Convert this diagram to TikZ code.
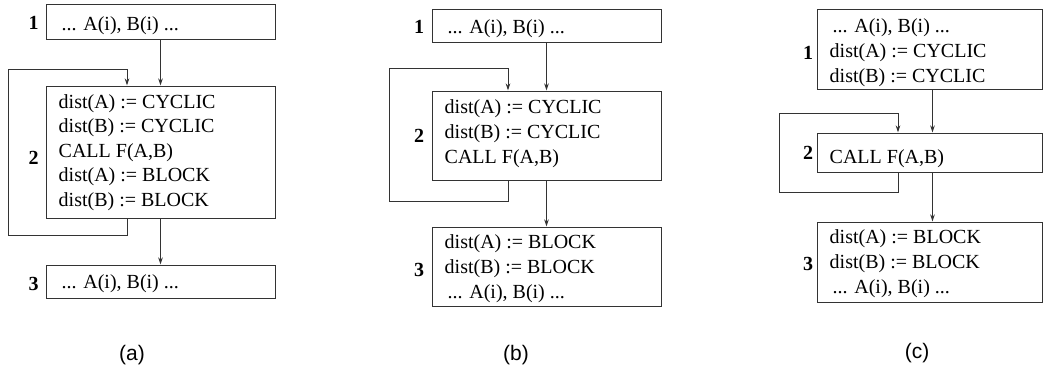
\documentclass[tikz,border=0pt]{standalone}
\usepackage{fontspec}
\setmainfont{Liberation Serif}
\newfontfamily\capfont{Liberation Sans}
\usetikzlibrary{arrows.meta}

\tikzset{
  stmtbox/.style={draw=black!80, line width=1pt, rectangle, inner sep=0pt},
  codeline/.style={anchor=base west, inner sep=0pt, font=\fontsize{20}{24}\selectfont},
  blocknum/.style={anchor=center, inner sep=0pt, font=\fontsize{20}{24}\selectfont\bfseries},
  caption/.style={anchor=center, inner sep=0pt, font=\capfont\fontsize{21}{25}\selectfont},
  flow/.style={draw=black!80, line width=1pt, -{Stealth[length=7pt,width=4.5pt]}},
}

% box with corners (x1,y1) and (x2,y2), y measured downwards
\newcommand{\stmtblock}[5]{%
  \node[stmtbox, minimum width={#4-#2}, minimum height={#5-#3}]
    (#1) at ({(#2+#4)/2},{(#3+#5)/2}) {};}

\begin{document}
\begin{tikzpicture}[x=1pt, y=-1pt]
\useasboundingbox (0,0) rectangle (1044,369);

% ---------------- (a) ----------------
\stmtblock{A1}{46}{5}{275}{40}
\stmtblock{A2}{46}{86}{275}{218}
\stmtblock{A3}{46}{265}{275}{298}

\node[blocknum] (nA1) at (33.5,23) {1};
\node[blocknum] (nA2) at (33.5,158) {2};
\node[blocknum] (nA3) at (33.5,284) {3};

\node[codeline] (tA1) at (61.5,31) {... A(i), B(i) ...};
\node[codeline] (tA2a) at (58.5,108) {dist(A) := CYCLIC};
\node[codeline] (tA2b) at (58.5,132.5) {dist(B) := CYCLIC};
\node[codeline] (tA2c) at (58.5,157) {CALL F(A,B)};
\node[codeline] (tA2d) at (58.5,181.5) {dist(A) := BLOCK};
\node[codeline] (tA2e) at (58.5,206) {dist(B) := BLOCK};
\node[codeline] (tA3) at (61.5,288) {... A(i), B(i) ...};

\coordinate (loopAbr) at (127,235);
\coordinate (loopAtl) at (8,70);
\draw[flow] (A1.south) -- (A2.north);
\draw[flow] (A2.south) -- (A3.north);
\draw[flow] (A2.south -| loopAbr) -- (loopAbr) -| (loopAtl) -| (A2.north -| loopAbr);

\node[caption] (capA) at (132,355) {(a)};

% ---------------- (b) ----------------
\stmtblock{B1}{432}{10}{661}{43}
\stmtblock{B2}{432}{91}{661}{180}
\stmtblock{B3}{432}{227}{661}{306}

\node[blocknum] (nB1) at (419,27) {1};
\node[blocknum] (nB2) at (419,136) {2};
\node[blocknum] (nB3) at (419,270) {3};

\node[codeline] (tB1) at (447.5,34) {... A(i), B(i) ...};
\node[codeline] (tB2a) at (444.5,113) {dist(A) := CYCLIC};
\node[codeline] (tB2b) at (444.5,138) {dist(B) := CYCLIC};
\node[codeline] (tB2c) at (444.5,163) {CALL F(A,B)};
\node[codeline] (tB3a) at (444.5,248) {dist(A) := BLOCK};
\node[codeline] (tB3b) at (444.5,273) {dist(B) := BLOCK};
\node[codeline] (tB3c) at (447.5,298) {... A(i), B(i) ...};

\coordinate (loopBbr) at (508,201);
\coordinate (loopBtl) at (389,69);
\draw[flow] (B1.south) -- (B2.north);
\draw[flow] (B2.south) -- (B3.north);
\draw[flow] (B2.south -| loopBbr) -- (loopBbr) -| (loopBtl) -| (B2.north -| loopBbr);

\node[caption] (capB) at (516,355) {(b)};

% ---------------- (c) ----------------
\stmtblock{C1}{817}{10}{1042.5}{89}
\stmtblock{C2}{817}{133}{1042.5}{172}
\stmtblock{C3}{817}{222}{1042.5}{302}

\node[blocknum] (nC1) at (808,53) {1};
\node[blocknum] (nC2) at (808,152.5) {2};
\node[blocknum] (nC3) at (808,264) {3};

\node[codeline] (tC1a) at (832.5,33) {... A(i), B(i) ...};
\node[codeline] (tC1b) at (829.5,57.5) {dist(A) := CYCLIC};
\node[codeline] (tC1c) at (829.5,82) {dist(B) := CYCLIC};
\node[codeline] (tC2) at (829.5,163) {CALL F(A,B)};
\node[codeline] (tC3a) at (829.5,243) {dist(A) := BLOCK};
\node[codeline] (tC3b) at (829.5,268) {dist(B) := BLOCK};
\node[codeline] (tC3c) at (832.5,293) {... A(i), B(i) ...};

\coordinate (mainC) at (932.5,0);
\coordinate (loopCbr) at (898,192);
\coordinate (loopCtl) at (779,113);
\draw[flow] (C1.south -| mainC) -- (C2.north -| mainC);
\draw[flow] (C2.south -| mainC) -- (C3.north -| mainC);
\draw[flow] (C2.south -| loopCbr) -- (loopCbr) -| (loopCtl) -| (C2.north -| loopCbr);

\node[caption] (capC) at (917,353) {(c)};
\end{tikzpicture}
\end{document}
